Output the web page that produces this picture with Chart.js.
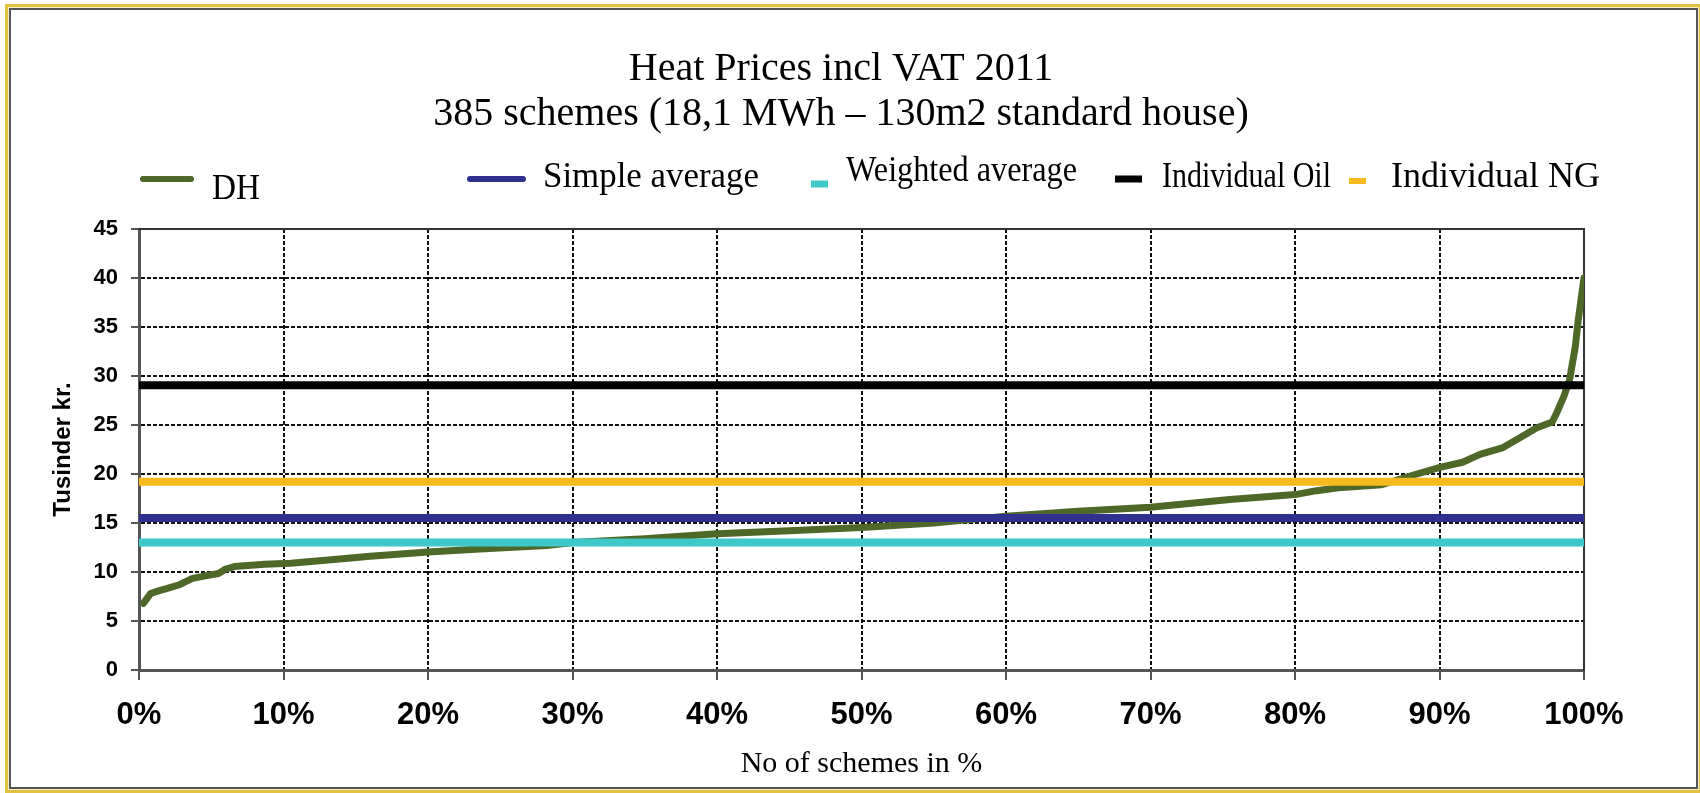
<!DOCTYPE html>
<html>
<head>
<meta charset="utf-8">
<title>Heat Prices incl VAT 2011</title>
<script src="https://cdn.jsdelivr.net/npm/chart.js@4.4.1/dist/chart.umd.min.js"></script>
<style>
    html, body { margin: 0; padding: 0; background: #fff; overflow: hidden; }
    #frame {
        position: absolute; left: 5px; top: 4px; width: 1697px; height: 789px;
        box-sizing: border-box; background: #fff;
        border: 3px solid #e3c143;
        box-shadow: inset 0 0 0 1px #f4ecc4, inset 0 0 0 3px #555;
    }
    #wrap { position: absolute; left: 0; top: 0; width: 1700px; height: 793px; }
</style>
</head>
<body>
<div id="frame"></div>
<div id="wrap"><canvas id="heat-chart" width="1700" height="793"></canvas></div>
<script>
// DH prices, sorted (share of schemes in %, thousand kr.)
const dhPct = [0.3, 0.8, 1.4, 1.9, 2.8, 3.2, 3.7, 4.6, 5.5, 6.0, 6.6, 8.7, 10.5, 13.7, 16, 20, 23.6, 28.2,
    30, 35, 40, 45, 50, 55, 60, 65, 70, 75.5, 80, 81.5, 83, 86, 88.2, 90.1, 91.6, 92.8, 94.4, 95.8,
    96.7, 97.8, 98.1, 98.6, 99.0, 99.4, 99.6, 100];
const dhPrice = [6.8, 7.8, 8.1, 8.3, 8.7, 9.0, 9.35, 9.6, 9.85, 10.3, 10.55, 10.8, 10.9, 11.3, 11.6, 12.05, 12.35, 12.7,
    13.0, 13.4, 13.9, 14.2, 14.55, 15.0, 15.7, 16.2, 16.6, 17.4, 17.9, 18.3, 18.6, 18.9, 19.9, 20.7, 21.2, 22.0, 22.7, 23.9,
    24.7, 25.3, 26.2, 27.9, 29.6, 33.0, 35.7, 40.0];

const refNames = ['Simple average', 'Weighted average', 'Individual Oil', 'Individual NG'];
const refValues = [15.5, 13.0, 29.05, 19.2];

const xTickLabels = ['0%', '10%', '20%', '30%', '40%', '50%', '60%', '70%', '80%', '90%', '100%'];
const yTicks = [0, 5, 10, 15, 20, 25, 30, 35, 40, 45];

const titleLines = ['Heat Prices incl VAT 2011', '385 schemes (18,1 MWh \u2013 130m2 standard house)'];

const colors = {
    'DH': '#4e6829',
    'Simple average': '#2e3190',
    'Weighted average': '#3ec8c8',
    'Individual Oil': '#000000',
    'Individual NG': '#f6ba1c'
};

// where each legend entry sits (swatch x1..x2 at y, text start tx / baseline ty, text width tw)
const legendSpots = {
    'DH':               { x1: 143, x2: 191, y: 179, w: 6, tx: 212, ty: 199, tw: 48, round: true },
    'Simple average':   { x1: 470, x2: 523, y: 179, w: 6, tx: 543, ty: 187, tw: 216, round: true },
    'Weighted average': { x1: 811, x2: 828, y: 184, w: 7, tx: 846, ty: 181, tw: 231 },
    'Individual Oil':   { x1: 1115, x2: 1142, y: 179, w: 7, tx: 1162, ty: 187, tw: 169 },
    'Individual NG':    { x1: 1349, x2: 1366, y: 181, w: 6, tx: 1391, ty: 187, tw: 214 }
};

const serif = "'Liberation Serif', 'Times New Roman', serif";
const sans = "'Liberation Sans', Arial, sans-serif";

const refDatasets = refNames.map((name, i) => ({
    label: name,
    data: [{ x: 0, y: refValues[i] }, { x: 100, y: refValues[i] }],
    borderColor: colors[name],
    backgroundColor: colors[name],
    borderWidth: 8,
    borderCapStyle: 'butt',
    pointRadius: 0,
    fill: false
}));

const dhDataset = {
    label: 'DH',
    data: dhPct.map((p, i) => ({ x: p, y: dhPrice[i] })),
    borderColor: colors['DH'],
    backgroundColor: colors['DH'],
    borderWidth: 7,
    borderJoinStyle: 'round',
    borderCapStyle: 'round',
    tension: 0,
    pointRadius: 0,
    fill: false
};

const legendPlugin = {
    id: 'placedLegend',
    afterDraw(chart) {
        const ctx = chart.ctx;
        ctx.save();
        ctx.font = '36px ' + serif;
        ctx.textBaseline = 'alphabetic';
        ctx.textAlign = 'left';
        ['DH', 'Simple average', 'Weighted average', 'Individual Oil', 'Individual NG'].forEach(name => {
            const ds = chart.data.datasets.find(d => d.label === name);
            const s = legendSpots[name];
            ctx.strokeStyle = ds.borderColor;
            ctx.lineWidth = s.w;
            ctx.lineCap = s.round ? 'round' : 'butt';
            ctx.beginPath();
            ctx.moveTo(s.x1, s.y);
            ctx.lineTo(s.x2, s.y);
            ctx.stroke();
            ctx.fillStyle = '#000';
            ctx.fillText(ds.label, s.tx, s.ty, s.tw);
        });
        ctx.restore();
    }
};

const ctx = document.getElementById('heat-chart');
new Chart(ctx, {
    type: 'line',
    data: { datasets: [...refDatasets, dhDataset] },
    options: {
        responsive: false,
        animation: false,
        layout: { padding: { top: 0, left: 0, right: 18, bottom: 13 } },
        plugins: {
            legend: { display: false },
            tooltip: { enabled: false },
            title: {
                display: true,
                text: titleLines,
                color: '#000',
                font: { family: serif, size: 40, weight: 'normal', lineHeight: 45 / 40 },
                padding: { top: 46.5, bottom: 0 }
            }
        },
        scales: {
            x: {
                type: 'linear',
                position: 'bottom',
                min: 0, max: 100,
                afterFit: s => { s.height = 110; },
                ticks: {
                    stepSize: 10,
                    color: '#000',
                    padding: 17,
                    maxRotation: 0,
                    font: { family: sans, size: 31, weight: 'bold' },
                    callback: v => xTickLabels[Math.round(v / 10)]
                },
                grid: {
                    color: '#111', lineWidth: 2,
                    tickLength: 10, tickColor: '#555', tickWidth: 2, tickBorderDash: []
                },
                border: { display: true, color: '#555', width: 3, dash: [4, 2] },
                title: {
                    display: true,
                    text: 'No of schemes in %',
                    color: '#000',
                    font: { family: serif, size: 30, weight: 'normal', lineHeight: 1.2 },
                    padding: { top: 0, bottom: -2 }
                }
            },
            y: {
                type: 'linear',
                position: 'left',
                min: 0, max: 45,
                afterFit: s => { s.width = 139; },
                afterBuildTicks: s => { s.ticks = yTicks.map(v => ({ value: v })); },
                ticks: {
                    color: '#000',
                    padding: 13,
                    font: { family: sans, size: 22, weight: 'bold' }
                },
                grid: {
                    color: '#111', lineWidth: 2,
                    tickLength: 8, tickColor: '#555', tickWidth: 2, tickBorderDash: []
                },
                border: { display: true, color: '#555', width: 3, dash: [4, 2] },
                title: {
                    display: true,
                    text: 'Tusinder kr.',
                    color: '#000',
                    font: { family: sans, size: 24, weight: 'bold', lineHeight: 1.2 },
                    padding: { top: 48.6, bottom: 0 }
                }
            },
            xTop: {
                type: 'linear',
                position: 'top',
                display: true,
                min: 0, max: 100,
                afterFit: s => { s.height = 92.5; },
                ticks: { display: false },
                grid: { display: false },
                border: { display: true, color: '#333', width: 2 }
            },
            yRight: {
                type: 'linear',
                position: 'right',
                display: true,
                min: 0, max: 45,
                afterFit: s => { s.width = 98; },
                ticks: { display: false },
                grid: { display: false },
                border: { display: true, color: '#333', width: 2 }
            }
        }
    },
    plugins: [legendPlugin]
});
</script>
</body>
</html>
